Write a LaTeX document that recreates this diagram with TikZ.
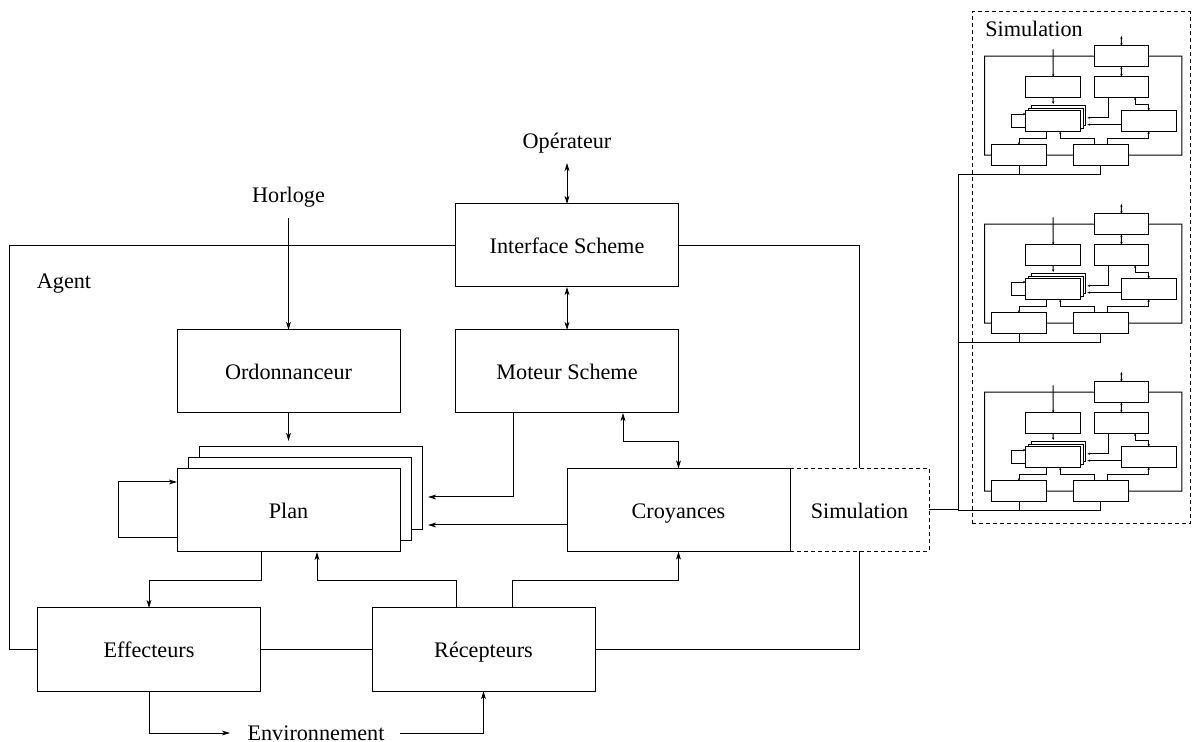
\documentclass[tikz,border=0pt]{standalone}
\usepackage{fontspec}
\setmainfont{Liberation Serif}
\usetikzlibrary{arrows.meta}

% text shown inside the boxes (switched off for the small copies)
\newcommand\boxlabel[1]{#1}

% boxes and connectors shared by the agent and its small copies
\newcommand\agentbody[1]{%
  \node[box] (#1iface)  at (567,245.5)   {\boxlabel{Interface Scheme}};
  \node[box] (#1ordo)   at (288.5,371.5) {\boxlabel{Ordonnanceur}};
  \node[box] (#1moteur) at (567,371.5)   {\boxlabel{Moteur Scheme}};
  \node[box] (#1planc)  at (310.5,488.5) {};
  \node[box] (#1planb)  at (299.5,499.5) {};
  \node[box] (#1plan)   at (288.5,510.5) {\boxlabel{Plan}};
  \node[box] (#1croy)   at (678.5,510)   {\boxlabel{Croyances}};
  \node[box] (#1eff)    at (149,649.5)   {\boxlabel{Effecteurs}};
  \node[box] (#1rec)    at (483.5,649.5) {\boxlabel{Récepteurs}};
  \coordinate (#1pina)    at (428,497);
  \coordinate (#1pinb)    at (428,525);
  \coordinate (#1plantop) at (288.5,441);
  \draw[darr] (#1iface) -- (#1moteur);
  \draw[arr]  (#1ordo) -- (#1plantop);
  \draw[arr]  (#1moteur.south -| 513,0) |- (#1pina);
  \draw[arr]  (#1croy.west |- #1pinb) -- (#1pinb);
  \draw[darr] (#1moteur.south -| 623,0) -- (623,442) -| (#1croy.north);
  \draw[arr]  (#1plan.south -| 261,0) -- (261,580.5) -| (#1eff.north);
  \draw[arr]  (#1rec.north -| 456,0) -- (456,580.5) -| (#1plan.south -| 317,0);
  \draw[arr]  (#1rec.north -| 512,0) -- (512,580.5) -| (#1croy.south);
  \draw (#1eff) -- (#1rec);
  \draw[arr]  (#1plan.west |- 0,538) -- (118,538) |- (#1plan.west |- 0,482);
  \draw (#1iface.west) -- (9,245.5) |- (#1eff.west);
}

\begin{document}
\begin{tikzpicture}[x=0.5pt,y=-0.5pt,line width=0.5pt,
  txt/.style={font=\fontsize{11.1}{13}\selectfont},
  box/.style={draw,fill=white,txt,minimum width=111.5pt,minimum height=41.5pt,
    inner sep=0pt,outer sep=0pt,text height=8.3pt,text depth=0pt},
  lbl/.style={txt,inner sep=0pt,anchor=base},
  arr/.style={-{Stealth[length=4pt,width=2.4pt,inset=1pt]}},
  darr/.style={{Stealth[length=4pt,width=2.4pt,inset=1pt]}-{Stealth[length=4pt,width=2.4pt,inset=1pt]}},
  dash box/.style={dash pattern=on 2pt off 1.5pt}]
\useasboundingbox (0,0) rectangle (1194,742);

% ---------- the agent ----------
\node[box,fill=none,dash box,minimum width=69.5pt] (sim) at (859.5,510) {Simulation};
\agentbody{}

\node[lbl] (oper)  at (567,149) {Opérateur};
\node[lbl] (horl)  at (288.5,203) {Horloge};
\node[lbl] (agent) at (64,289) {Agent};
\node[lbl] (env)   at (316,740) {Environnement};

\coordinate (operpt) at (567,163);
\coordinate (horlpt) at (288.5,218);
\coordinate (envin)  at (230,733);
\coordinate (envout) at (400,733);
\draw[darr] (operpt) -- (iface);
\draw[arr]  (horlpt) -- (ordo);
\draw (iface.east) -| (sim.north);
\draw (sim.south) |- (rec.east);
\draw[arr] (eff.south) |- (envin);
\draw[arr] (envout) -| (rec.south);

% ---------- simulated agents ----------
\node[draw,dash box,minimum width=109pt,minimum height=256pt,inner sep=0pt] (simpanel) at (1081,268) {};
\node[lbl] (simlbl) at (1034,37) {Simulation};

\foreach \k in {0,1,2}{
  \begin{scope}[shift={(982.5,-4+168*\k)},scale=0.245,
      every node/.append style={transform shape},
      arr/.style={-{Stealth[length=1.4pt,width=1.1pt]}},
      darr/.style={{Stealth[length=1.4pt,width=1.1pt]}-{Stealth[length=1.4pt,width=1.1pt]}}]
    \renewcommand\boxlabel[1]{}
    \agentbody{s\k-}
    \coordinate (s\k-oper) at (567,163);
    \coordinate (s\k-horl) at (288.5,218);
    \coordinate (s\k-bus)  at (-100,728);
    \draw[darr] (s\k-oper) -- (s\k-iface);
    \draw[arr]  (s\k-horl) -- (s\k-ordo);
    \draw (s\k-iface.east) -- (814,245.5) |- (s\k-rec.east);
    \draw (s\k-eff.south) |- (s\k-bus);
    \draw (s\k-rec.south) |- (s\k-bus);
  \end{scope}
}
\draw (s0-bus) -- (s2-bus);
\draw (sim.east) -- (sim.east -| s2-bus);
\end{tikzpicture}
\end{document}
